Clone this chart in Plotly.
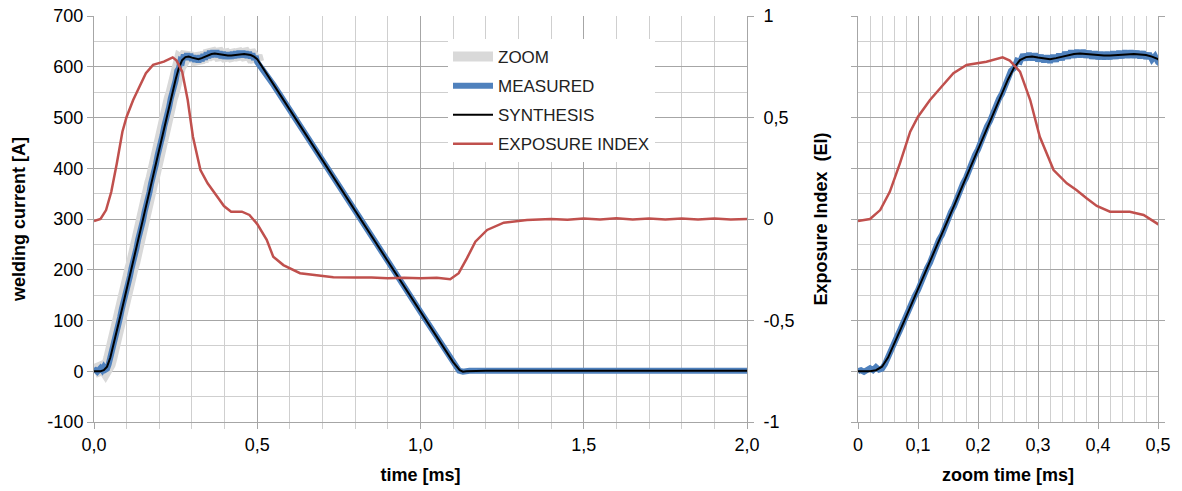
import plotly.graph_objects as go

# ---- welding current, measured (ms, A) ----
measured_t = [
    0.000, 0.005, 0.010, 0.015, 0.020, 0.025, 0.030, 0.035, 0.040, 0.045,
    0.050, 0.055, 0.060, 0.065, 0.070, 0.075, 0.080, 0.085, 0.090, 0.095,
    0.100, 0.105, 0.110, 0.115, 0.120, 0.125, 0.130, 0.135, 0.140, 0.145,
    0.150, 0.155, 0.160, 0.165, 0.170, 0.175, 0.180, 0.185, 0.190, 0.195,
    0.200, 0.205, 0.210, 0.215, 0.220, 0.225, 0.230, 0.235, 0.240, 0.245,
    0.250, 0.255, 0.260, 0.265, 0.270, 0.275, 0.280, 0.285, 0.290, 0.295,
    0.300, 0.305, 0.310, 0.315, 0.320, 0.325, 0.330, 0.335, 0.340, 0.345,
    0.350, 0.355, 0.360, 0.365, 0.370, 0.375, 0.380, 0.385, 0.390, 0.395,
    0.400, 0.405, 0.410, 0.415, 0.420, 0.425, 0.430, 0.435, 0.440, 0.445,
    0.450, 0.455, 0.460, 0.465, 0.470, 0.475, 0.480, 0.485, 0.490, 0.495,
    0.500, 0.550, 0.600, 0.700, 0.800, 0.900, 1.000, 1.050, 1.100, 1.118,
    1.130, 1.150, 1.200, 1.500, 1.800, 2.000,
]
measured_a = [
    0, 2, -1, 4, 6, 2, 8, 3, 5, 14,
    26, 42, 54, 68, 81, 96, 106, 122, 133, 149,
    160, 176, 187, 203, 214, 231, 242, 259, 269, 286,
    297, 314, 325, 342, 353, 370, 381, 398, 409, 426,
    437, 454, 465, 482, 493, 509, 520, 537, 547, 564,
    573, 592, 597, 612, 610, 624, 614, 626, 614, 625,
    612, 622, 610, 621, 609, 622, 611, 625, 614, 628,
    617, 631, 619, 632, 620, 632, 619, 630, 617, 629,
    616, 628, 616, 628, 616, 629, 617, 630, 618, 631,
    619, 631, 619, 630, 618, 629, 617, 626, 614, 621,
    609, 564, 515, 416, 316, 217, 117, 68, 18, 1,
    -1, 1, 1, 1, 1, 1,
]

# ---- welding current, synthesis (ms, A) ----
synth_t = [
    0.00, 0.01, 0.02, 0.03, 0.04, 0.05, 0.06, 0.07, 0.08, 0.09,
    0.10, 0.11, 0.12, 0.13, 0.14, 0.15, 0.16, 0.17, 0.18, 0.19,
    0.20, 0.21, 0.22, 0.23, 0.24, 0.25, 0.26, 0.27, 0.28, 0.29,
    0.30, 0.31, 0.32, 0.33, 0.34, 0.35, 0.36, 0.37, 0.38, 0.39,
    0.40, 0.41, 0.42, 0.43, 0.44, 0.45, 0.46, 0.47, 0.48, 0.49,
    0.50, 0.60, 0.70, 0.80, 0.90, 1.00, 1.10, 1.12, 1.13, 1.14,
    1.20, 2.00,
]
synth_a = [
    0, 0, 0, 2, 9, 27, 52, 80, 107, 134,
    161, 188, 215, 243, 270, 298, 326, 354, 382, 410,
    438, 466, 494, 521, 548, 575, 598, 613, 619, 620,
    618, 616, 615, 617, 620, 623, 625, 626, 625, 623,
    622, 622, 622, 623, 624, 625, 625, 624, 623, 620,
    615, 515, 416, 316, 217, 117, 18, 2, -1, 0,
    1, 1,
]

# ---- exposure index (ms, EI) ----
ei_t = [
    0.000, 0.020, 0.037, 0.053, 0.070, 0.087, 0.100, 0.120, 0.137, 0.159,
    0.181, 0.198, 0.214, 0.241, 0.253, 0.270, 0.287, 0.303, 0.326, 0.348,
    0.364, 0.381, 0.398, 0.420, 0.453, 0.476, 0.500, 0.529, 0.549, 0.580,
    0.631, 0.692, 0.733, 0.800, 0.850, 0.900, 0.950, 1.000, 1.050, 1.091,
    1.117, 1.142, 1.168, 1.204, 1.255, 1.326, 1.400, 1.450, 1.500, 1.550,
    1.600, 1.650, 1.700, 1.750, 1.800, 1.850, 1.900, 1.950, 2.000,
]
ei_v = [
    -0.010, 0.000, 0.044, 0.134, 0.275, 0.430, 0.504, 0.586, 0.644, 0.718,
    0.759, 0.767, 0.775, 0.796, 0.780, 0.726, 0.586, 0.405, 0.241, 0.176,
    0.143, 0.102, 0.064, 0.036, 0.036, 0.020, -0.025, -0.103, -0.186, -0.227,
    -0.267, -0.279, -0.287, -0.288, -0.288, -0.292, -0.290, -0.292, -0.290, -0.297,
    -0.267, -0.194, -0.112, -0.054, -0.018, -0.005, 0.000, -0.004, 0.003, -0.002,
    0.004, -0.003, 0.002, -0.003, 0.003, -0.002, 0.003, -0.002, 0.000,
]

zoom_end = 0.5
zoom_t = [t for t in measured_t if t <= zoom_end]
zoom_a = measured_a[:len(zoom_t)]

BLUE = "#4F81BD"
RED = "#C0504D"
GRAY = "#D9D9D9"
MAJOR = "#A6A6A6"
MINOR = "#CFCFCF"
FONT = "Liberation Sans, Arial, sans-serif"

fig = go.Figure()

# left chart: full time span
fig.add_trace(go.Scatter(x=zoom_t, y=zoom_a, name="ZOOM", mode="lines",
                         line=dict(color=GRAY, width=14), legendgroup="g1",
                         xaxis="x", yaxis="y"))
fig.add_trace(go.Scatter(x=measured_t, y=measured_a, name="MEASURED", mode="lines",
                         line=dict(color=BLUE, width=6), legendgroup="g2",
                         xaxis="x", yaxis="y"))
fig.add_trace(go.Scatter(x=synth_t, y=synth_a, name="SYNTHESIS", mode="lines",
                         line=dict(color="black", width=2), legendgroup="g3",
                         xaxis="x", yaxis="y"))
fig.add_trace(go.Scatter(x=ei_t, y=ei_v, name="EXPOSURE INDEX", mode="lines",
                         line=dict(color=RED, width=2.5), legendgroup="g4",
                         xaxis="x", yaxis="y2"))

# right chart: first 0.5 ms
fig.add_trace(go.Scatter(x=measured_t, y=measured_a, mode="lines", showlegend=False,
                         line=dict(color=BLUE, width=6), xaxis="x2", yaxis="y3"))
fig.add_trace(go.Scatter(x=synth_t, y=synth_a, mode="lines", showlegend=False,
                         line=dict(color="black", width=2), xaxis="x2", yaxis="y3"))
fig.add_trace(go.Scatter(x=ei_t, y=ei_v, mode="lines", showlegend=False,
                         line=dict(color=RED, width=2.5), xaxis="x2", yaxis="y4"))

tick_font = dict(family=FONT, size=18, color="black")
title_font = dict(family=FONT, size=18, color="black")

axis_common = dict(
    showline=True, linecolor=MAJOR, linewidth=1,
    showgrid=True, gridcolor=MAJOR, gridwidth=1,
    ticks="outside", ticklen=6, tickcolor=MAJOR,
    zeroline=False, tickfont=tick_font, automargin=False,
)

amp_vals = [-100, 0, 100, 200, 300, 400, 500, 600, 700]
amp_text = ["-100", "0", "100", "200", "300", "400", "500", "600", "700"]
ei_vals = [-1, -0.5, 0, 0.5, 1]
ei_text = ["-1", "-0,5", "0", "0,5", "1"]
time_vals = [0, 0.5, 1.0, 1.5, 2.0]
time_text = ["0,0", "0,5", "1,0", "1,5", "2,0"]
zoom_vals = [0, 0.1, 0.2, 0.3, 0.4, 0.5]
zoom_text = ["0", "0,1", "0,2", "0,3", "0,4", "0,5"]

W, H = 1182, 491

fig.update_layout(
    width=W, height=H,
    margin=dict(l=0, r=0, t=16, b=69, autoexpand=False),
    paper_bgcolor="white", plot_bgcolor="white",
    font=dict(family=FONT, color="black"),
    showlegend=True,
    legend=dict(
        x=448 / W, y=1 - 23 / 406, xanchor="left", yanchor="top",
        bgcolor="white", borderwidth=0,
        font=dict(family=FONT, size=17, color="#222"),
        tracegroupgap=4, itemwidth=40,
    ),
    xaxis=dict(
        axis_common, domain=[94 / W, 747 / W], anchor="y", range=[0, 2],
        tickvals=time_vals, ticktext=time_text,
        minor=dict(dtick=0.1, showgrid=True, gridcolor=MINOR, ticks="outside",
                   ticklen=6, tickcolor=MINOR),
        title=dict(text="<b>time [ms]</b>", font=title_font, standoff=14),
    ),
    yaxis=dict(
        axis_common, domain=[0, 1], anchor="x", range=[-100, 700],
        tickvals=amp_vals, ticktext=amp_text,
        minor=dict(dtick=50, showgrid=True, gridcolor=MINOR),
        title=dict(text="<b>welding current [A]</b>", font=title_font, standoff=17),
    ),
    yaxis2=dict(
        overlaying="y", anchor="x", side="right", range=[-1, 1],
        tickvals=ei_vals, ticktext=ei_text, showgrid=False, zeroline=False,
        showline=True, linecolor=MAJOR, ticks="outside", ticklen=6, tickcolor=MAJOR,
        tickfont=tick_font, automargin=False, ticklabelstandoff=6,
        title=dict(text="<b>Exposure Index  (EI)</b>", font=title_font, standoff=20),
    ),
    xaxis2=dict(
        axis_common, domain=[858 / W, 1158 / W], anchor="y3", range=[0, 0.5],
        tickvals=zoom_vals, ticktext=zoom_text,
        minor=dict(dtick=0.02, showgrid=True, gridcolor=MINOR),
        title=dict(text="<b>zoom time [ms]</b>", font=title_font, standoff=14),
    ),
    yaxis3=dict(
        axis_common, domain=[0, 1], anchor="x2", range=[-100, 700],
        tickvals=amp_vals, showticklabels=False,
        minor=dict(dtick=50, showgrid=True, gridcolor=MINOR),
    ),
    yaxis4=dict(
        overlaying="y3", anchor="x2", side="right", range=[-1, 1],
        tickvals=ei_vals, showticklabels=False, showgrid=False, zeroline=False,
        showline=True, linecolor=MAJOR, ticks="outside", ticklen=6, tickcolor=MAJOR,
        automargin=False,
    ),
)

fig.write_html("out.html")
